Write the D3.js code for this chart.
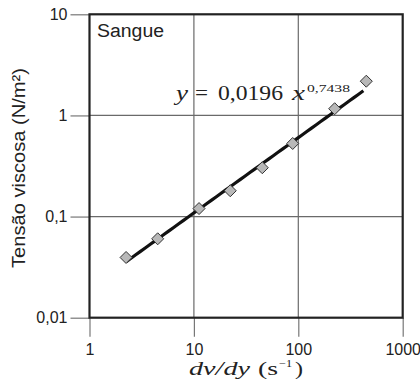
<!DOCTYPE html>
<html><head><meta charset="utf-8">
<script src="https://cdn.jsdelivr.net/npm/d3@7"></script>
<style>body{margin:0;background:#fff}</style>
</head><body>
<svg id="c" width="420" height="384"></svg>
<script>
const xVals = [2.24, 4.5, 11.2, 22.3, 45.2, 88.4, 223, 448];
const yVals = [0.0394, 0.0603, 0.120, 0.180, 0.304, 0.528, 1.165, 2.18];
const fitA = 0.0196, fitB = 0.7438;
const fitRange = [2.25, 420];
const xTicks = [1, 10, 100, 1000];
const xTickLabels = ["1", "10", "100", "1000"];
const yTicks = [0.01, 0.1, 1, 10];
const yTickLabels = ["0,01", "0,1", "1", "10"];

const svg = d3.select("#c");
const L = 89.5, R = 402.7, T = 14.3, B = 317.7;
const x = d3.scaleLog().domain([1, 1000]).range([L, R]);
const y = d3.scaleLog().domain([0.01, 10]).range([B, T]);
const sans = "'Liberation Sans', Arial, sans-serif";
const serif = "'Liberation Serif', 'Times New Roman', serif";
const ink = "#222";

// grid
svg.append("g").selectAll("line").data(xTicks.slice(1, -1)).join("line")
  .attr("x1", d => x(d)).attr("x2", d => x(d)).attr("y1", T).attr("y2", B)
  .attr("stroke", "#6a6a6a").attr("stroke-width", 1.2);
svg.append("g").selectAll("line").data(yTicks.slice(1, -1)).join("line")
  .attr("y1", d => y(d)).attr("y2", d => y(d)).attr("x1", L).attr("x2", R)
  .attr("stroke", "#6a6a6a").attr("stroke-width", 1.2);

// axes
const xAxis = svg.append("g").attr("transform", `translate(0,${B})`)
  .call(d3.axisBottom(x).tickValues(xTicks).tickFormat((d, i) => xTickLabels[i]).tickSize(19).tickPadding(7));
const yAxis = svg.append("g").attr("transform", `translate(${L},0)`)
  .call(d3.axisLeft(y).tickValues(yTicks).tickFormat((d, i) => yTickLabels[i]).tickSize(19).tickPadding(3));
[xAxis, yAxis].forEach(g => {
  g.select(".domain").remove();
  g.selectAll("line").attr("stroke", "#777").attr("stroke-width", 1.2);
  g.selectAll("text").attr("font-family", sans).attr("font-size", 16).attr("fill", ink);
});
xAxis.selectAll("text").attr("dy", "0.72em");

// frame
svg.append("rect").attr("x", L).attr("y", T).attr("width", R - L).attr("height", B - T)
  .attr("fill", "none").attr("stroke", ink).attr("stroke-width", 2.2);

// fit line
const fitPts = d3.range(0, 51).map(i => {
  const lx = Math.log10(fitRange[0]) + i / 50 * (Math.log10(fitRange[1]) - Math.log10(fitRange[0]));
  const xv = Math.pow(10, lx);
  return [xv, fitA * Math.pow(xv, fitB)];
});
svg.append("path").datum(fitPts)
  .attr("d", d3.line().x(d => x(d[0])).y(d => y(d[1])))
  .attr("fill", "none").attr("stroke", "#111").attr("stroke-width", 3.2);

// points
const pts = xVals.map((v, i) => [v, yVals[i]]);
svg.append("g").selectAll("path").data(pts).join("path")
  .attr("transform", d => `translate(${x(d[0])},${y(d[1])})`)
  .attr("d", "M0,-6L6,0L0,6L-6,0Z")
  .attr("fill", "#b8b8b8").attr("stroke", "#333").attr("stroke-width", 1);

// helper for stretched text pieces
function piece(px, py, str, opts) {
  const t = svg.append("text").attr("x", px).attr("y", py)
    .attr("font-family", opts.family || serif).attr("font-size", opts.size || 20)
    .attr("fill", ink).text(str);
  if (opts.italic) t.attr("font-style", "italic");
  if (opts.len) t.attr("textLength", opts.len).attr("lengthAdjust", "spacingAndGlyphs");
  return t;
}

// labels
piece(97, 37, "Sangue", {family: sans, size: 18, len: 67});

// equation
piece(176, 100, "y", {italic: true, size: 20, len: 12});
piece(195, 100, "=", {size: 20, len: 13});
piece(218, 100, "0,0196", {size: 20, len: 65});
piece(292, 100, "x", {italic: true, size: 20, len: 13});
piece(307, 92, "0,7438", {size: 11, len: 43});

// y label
svg.append("text").attr("transform", "translate(25,168) rotate(-90)")
  .attr("text-anchor", "middle").attr("font-family", sans).attr("font-size", 19)
  .attr("textLength", 200).attr("lengthAdjust", "spacingAndGlyphs").attr("fill", ink)
  .text("Tensão viscosa (N/m²)");

// x label
piece(189, 375, "dv/dy", {italic: true, size: 18, len: 61});
piece(258, 375, "(s", {size: 18, len: 20});
piece(279, 367, "−1", {size: 10, len: 13});
piece(295, 375, ")", {size: 18, len: 8});
</script>
</body></html>
